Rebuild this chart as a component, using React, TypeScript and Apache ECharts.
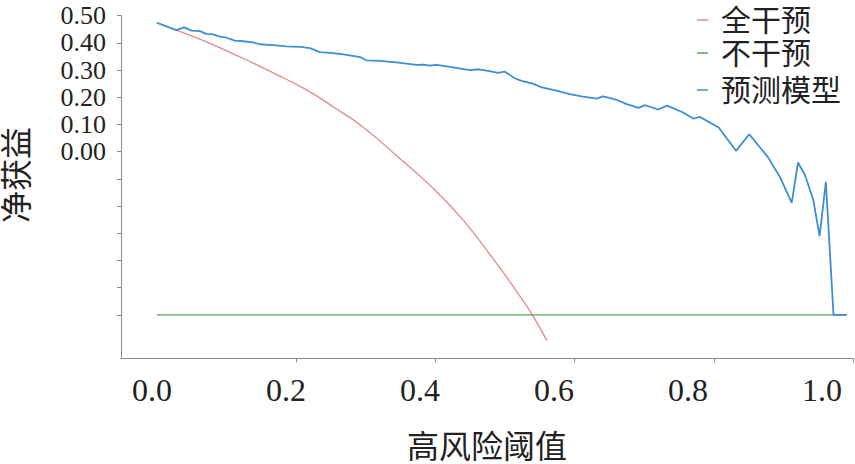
import React, { useEffect, useRef } from "react";
import * as echarts from "echarts";

const seriesNames = ["全干预", "不干预", "预测模型"];

const treatAllX = [0, 0.028, 0.071, 0.119, 0.167, 0.215, 0.258, 0.296, 0.344, 0.392, 0.44, 0.488, 0.517, 0.538, 0.56];
const treatAllY = [0.474, 0.447, 0.404, 0.349, 0.29, 0.227, 0.157, 0.091, -0.014, -0.123, -0.252, -0.411, -0.515, -0.595, -0.694];

const noneX = [0, 0.991];
const noneY = [-0.6, -0.6];

const modelX = [
  0.0, 0.028, 0.039, 0.05, 0.062, 0.071, 0.079, 0.091, 0.1, 0.112, 0.124, 0.138, 0.148, 0.167, 0.186, 0.206,
  0.22, 0.234, 0.249, 0.268, 0.292, 0.301, 0.32, 0.344, 0.373, 0.383, 0.392, 0.402, 0.421, 0.45, 0.462, 0.478,
  0.49, 0.5, 0.514, 0.524, 0.54, 0.553, 0.574, 0.593, 0.612, 0.632, 0.641, 0.661, 0.675, 0.692, 0.701, 0.72,
  0.733, 0.756, 0.771, 0.78, 0.807, 0.832, 0.851, 0.878, 0.895, 0.912, 0.921, 0.931, 0.943, 0.952, 0.961,
  0.972, 0.991,
];
const modelY = [
  0.474, 0.447, 0.457, 0.445, 0.443, 0.433, 0.432, 0.423, 0.419, 0.408, 0.406, 0.402, 0.395, 0.392, 0.387, 0.385,
  0.381, 0.366, 0.363, 0.358, 0.348, 0.336, 0.334, 0.328, 0.319, 0.32, 0.316, 0.319, 0.312, 0.3, 0.303, 0.296,
  0.29, 0.294, 0.27, 0.26, 0.25, 0.236, 0.224, 0.212, 0.202, 0.195, 0.203, 0.19, 0.175, 0.161, 0.171, 0.155,
  0.169, 0.144, 0.121, 0.128, 0.089, 0.003, 0.064, -0.021, -0.093, -0.188, -0.04, -0.086, -0.178, -0.311, -0.111,
  -0.6, -0.6,
];

const xTickValues = [0.2, 0.4, 0.6, 0.8, 1.0];
const xLabelValues = [0, 0.2, 0.4, 0.6, 0.8, 1.0];
const yTickValues = [0.5, 0.4, 0.3, 0.2, 0.1, 0, -0.1, -0.2, -0.3, -0.4, -0.5, -0.6];
const yLabelValuesA = [0.5, 0.3, 0.1];
const yLabelValuesB = [0.4, 0.2, 0];

const colors = ["#e08a8a", "#5e9c62", "#3d8fd1"];

const zip = (xs: number[], ys: number[]) => xs.map((x, i) => [x, ys[i]]);

const FONT = "Liberation Serif, Noto Sans CJK SC, serif";

export default function App() {
  const ref = useRef<HTMLDivElement>(null);
  useEffect(() => {
    const chart = echarts.init(ref.current!, undefined, { renderer: "svg" });
    const legendTops = [0, 33, 70];
    const yLabel = (values: number[]) => ({
      show: true,
      customValues: values,
      interval: 0,
      hideOverlap: false,
      margin: 15,
      fontSize: 26,
      lineHeight: 26,
      color: "#222",
      fontFamily: FONT,
      formatter: (v: number) => v.toFixed(2),
    });
    chart.setOption({
      animation: false,
      backgroundColor: "#ffffff",
      textStyle: { fontFamily: FONT },
      legend: seriesNames.map((n, i) => ({
        data: [n],
        left: 692,
        top: legendTops[i],
        icon: "rect",
        itemWidth: 11,
        itemHeight: 1.5,
        textStyle: { fontSize: 30, color: "#222", fontFamily: FONT, padding: [0, 0, 0, 8] },
      })),
      grid: { left: 121, right: 2, top: 15.7, bottom: 105.7, containLabel: false, outerBoundsMode: "none" },
      xAxis: [
        {
          type: "value",
          min: -0.0515,
          max: 1.0,
          position: "bottom",
          name: "高风险阈值",
          nameLocation: "middle",
          nameGap: 73,
          nameTextStyle: { fontSize: 32, color: "#222", fontFamily: FONT },
          axisLine: { show: true, onZero: false, lineStyle: { color: "#8a8a8a", width: 1 } },
          axisTick: { show: true, length: 4, customValues: xTickValues, lineStyle: { color: "#8a8a8a" } },
          axisLabel: { show: false },
          splitLine: { show: false },
        },
        {
          type: "value",
          min: -0.0463,
          max: 1.0463,
          position: "bottom",
          axisLine: { show: false, onZero: false },
          axisTick: { show: false },
          axisLabel: {
            show: true,
            customValues: xLabelValues,
            interval: 0,
            margin: 16,
            fontSize: 32,
            color: "#222",
            fontFamily: FONT,
            formatter: (v: number) => v.toFixed(1),
          },
          splitLine: { show: false },
        },
      ],
      yAxis: [
        {
          type: "value",
          min: -0.76,
          max: 0.5,
          position: "left",
          name: "净获益",
          nameLocation: "middle",
          nameGap: 88,
          nameRotate: 90,
          nameTextStyle: { fontSize: 32, color: "#222", fontFamily: FONT, padding: [0, 0, 0, 24] },
          axisLine: { show: true, onZero: false, lineStyle: { color: "#8a8a8a", width: 1 } },
          axisTick: { show: true, length: 4, interval: 0, customValues: yTickValues, lineStyle: { color: "#8a8a8a" } },
          axisLabel: yLabel(yLabelValuesA),
          splitLine: { show: false },
        },
        {
          type: "value",
          min: -0.76,
          max: 0.5,
          position: "left",
          offset: 0,
          axisLine: { show: false, onZero: false },
          axisTick: { show: false },
          axisLabel: yLabel(yLabelValuesB),
          splitLine: { show: false },
        },
      ],
      series: [
        {
          name: seriesNames[0],
          type: "line",
          xAxisIndex: 0,
          yAxisIndex: 0,
          data: zip(treatAllX, treatAllY),
          smooth: true,
          showSymbol: false,
          lineStyle: { color: colors[0], width: 1.3 },
          itemStyle: { color: colors[0] },
        },
        {
          name: seriesNames[1],
          type: "line",
          xAxisIndex: 0,
          yAxisIndex: 0,
          data: zip(noneX, noneY),
          showSymbol: false,
          lineStyle: { color: colors[1], width: 1.3 },
          itemStyle: { color: colors[1] },
        },
        {
          name: seriesNames[2],
          type: "line",
          xAxisIndex: 0,
          yAxisIndex: 0,
          data: zip(modelX, modelY),
          showSymbol: false,
          lineStyle: { color: colors[2], width: 1.8 },
          itemStyle: { color: colors[2] },
        },
      ],
    });
    return () => chart.dispose();
  }, []);
  return <div ref={ref} style={{ position: "absolute", left: 0, top: 0, width: 855, height: 464 }} />;
}
